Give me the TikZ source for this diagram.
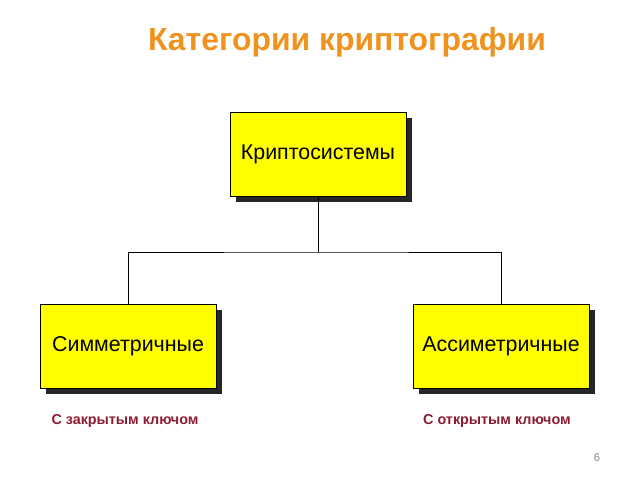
\documentclass[tikz,border=0pt]{standalone}
\usepackage{fontspec}
\setmainfont{Liberation Sans}
\usetikzlibrary{shadows}
\definecolor{titleorange}{RGB}{240,146,30}
\definecolor{keyred}{RGB}{140,28,48}
\definecolor{boxyellow}{RGB}{255,255,0}
\tikzset{
    catbox/.style={draw=black, fill=boxyellow, minimum width=4.4cm,
        minimum height=2.1cm, font=\fontsize{15.2}{17}\selectfont,
        drop shadow={shadow xshift=0.15cm, shadow yshift=-0.15cm,
            fill=black!85, opacity=1}},
    keylabel/.style={text=keyred, font=\bfseries\fontsize{10.2}{12}\selectfont}
}
\begin{document}
\begin{tikzpicture}[x=0.025cm, y=-0.025cm]
    \pgfmathsetmacro\forky{252};
    \pgfmathsetmacro\labely{421};

    \useasboundingbox (0, 0) rectangle (640, 480);
    \node[text=titleorange, font=\bfseries\fontsize{22.7}{26}\selectfont]
        (title) at (347, 42) {Категории криптографии};

    \node[catbox] (crypto) at (318, 154) {Криптосистемы};
    \node[catbox] (sym) at (128, 346) {Симметричные};
    \node[catbox] (asym) at (501, 346) {Ассиметричные};

    \coordinate (fork) at (318, \forky);
    \draw[line width=0.6pt] (crypto.south) -- (fork);
    \draw[line width=0.6pt] (sym.north) |- (fork) -| (asym.north);

    \node[keylabel] (closed) at (125, \labely) {С закрытым ключом};
    \node[keylabel] (open) at (497, \labely) {С открытым ключом};
    \node[text=black!45, font=\fontsize{8}{9}\selectfont] (page) at (597, 458) {6};
\end{tikzpicture}
\end{document}
